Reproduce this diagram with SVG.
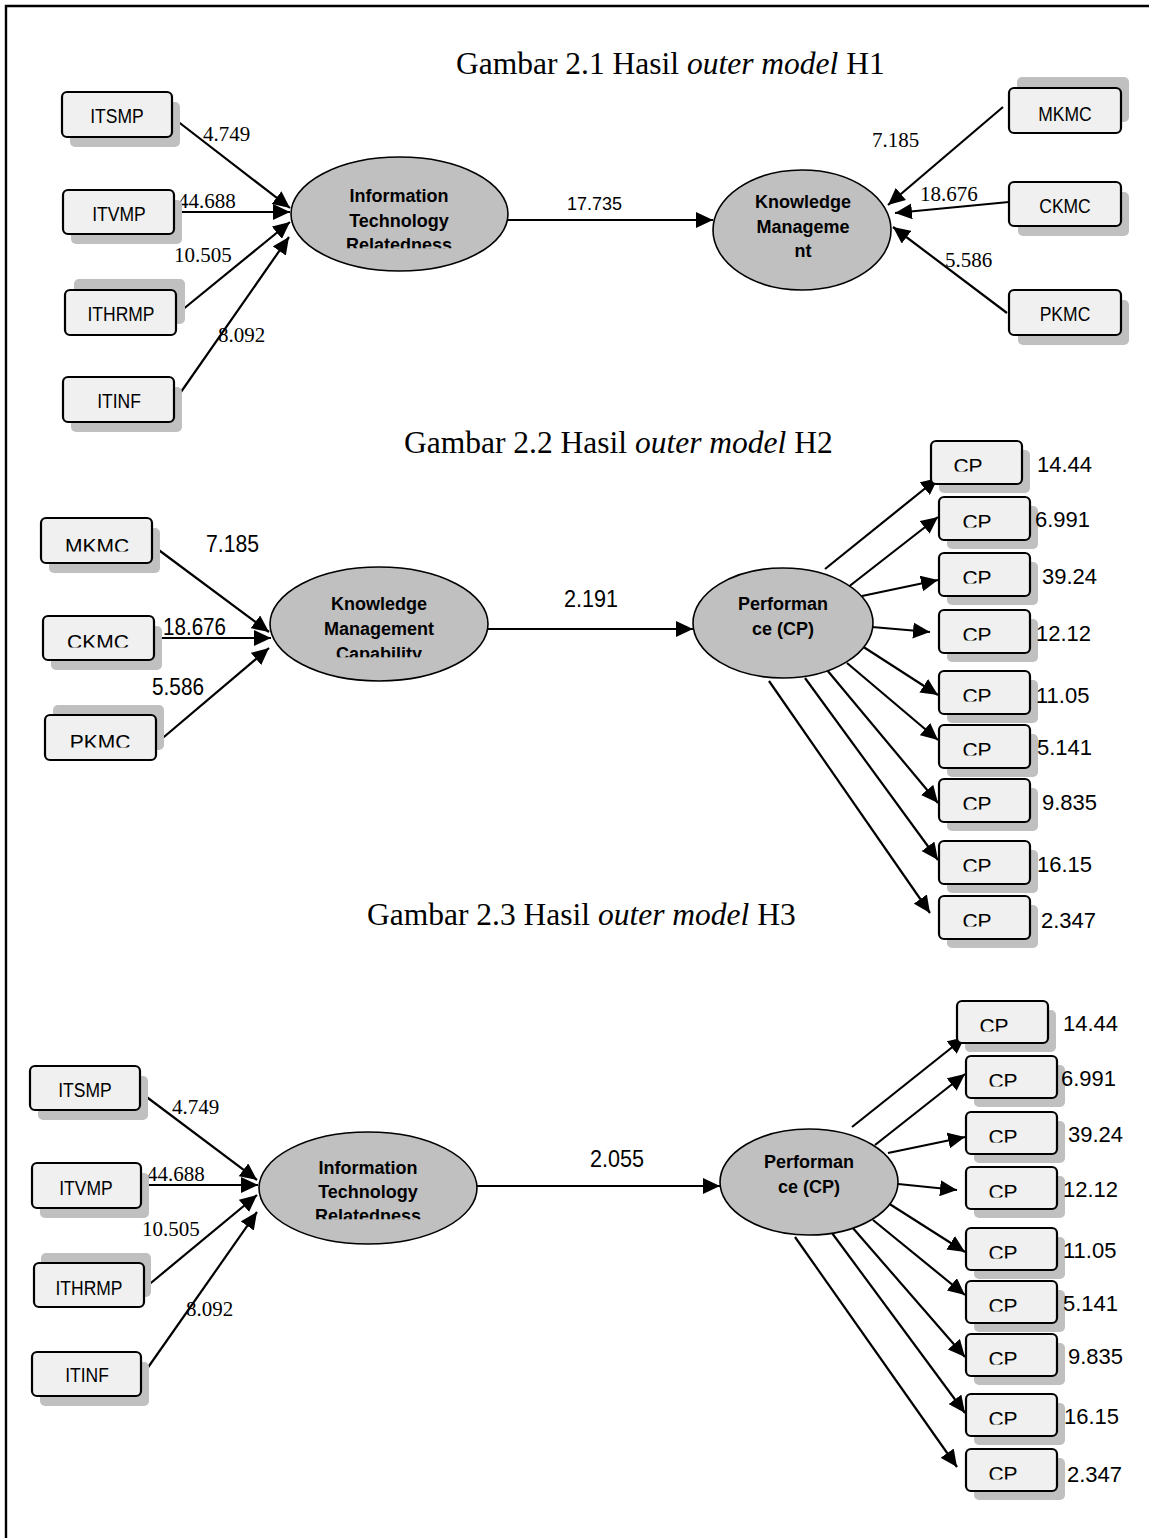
<svg xmlns="http://www.w3.org/2000/svg" width="1149" height="1538" viewBox="0 0 1149 1538">
<style>
.bx{fill:#f0f0f0;stroke:#000;stroke-width:2.2}
.sh{fill:#c0c0c0}
.el{fill:#c0c0c0;stroke:#000;stroke-width:1.6}
.ln{stroke:#000;stroke-width:2.2;fill:none;marker-end:url(#ah)}
.tt{font-family:"Liberation Serif","Times New Roman",serif;font-size:31.5px;fill:#000}
.tv{font-family:"Liberation Serif","Times New Roman",serif;font-size:21px;fill:#000}
.bt{font-family:"Liberation Sans",Arial,sans-serif;font-size:20px;text-anchor:middle;fill:#000}
.bt2{font-family:"Liberation Sans",Arial,sans-serif;font-size:21px;text-anchor:middle;fill:#000}
.et{font-family:"Liberation Sans",Arial,sans-serif;font-size:18px;font-weight:bold;text-anchor:middle;fill:#000}
.lv{font-family:"Liberation Sans",Arial,sans-serif;font-size:24px;fill:#000}
.cv{font-family:"Liberation Sans",Arial,sans-serif;font-size:22px;fill:#000}
.l1{font-family:"Liberation Sans",Arial,sans-serif;font-size:18px;fill:#000}
</style>
<defs>
<marker id="ah" markerUnits="userSpaceOnUse" markerWidth="18" markerHeight="16" refX="17" refY="8" orient="auto">
<path d="M0,0 L17,8 L0,16 z" fill="#000"/>
</marker>
<clipPath id="cb" clipPathUnits="objectBoundingBox"><rect x="-0.1" y="0" width="1.2" height="0.76"/></clipPath>
<clipPath id="ce" clipPathUnits="objectBoundingBox"><rect x="-0.1" y="0" width="1.2" height="0.66"/></clipPath>
</defs>
<rect x="0" y="0" width="1149" height="1538" fill="#fff"/>
<g id="frame"><path d="M6,1538 V6 H1149" fill="none" stroke="#000" stroke-width="2.4"/></g>

<g id="titles">
<text class="tt" x="456" y="74">Gambar 2.1 Hasil <tspan font-style="italic">outer model</tspan> H1</text>
<text class="tt" x="404" y="453">Gambar 2.2 Hasil <tspan font-style="italic">outer model</tspan> H2</text>
<text class="tt" x="367" y="925">Gambar 2.3 Hasil <tspan font-style="italic">outer model</tspan> H3</text>
</g>

<g id="connectors">
<line class="ln" x1="172" y1="117" x2="290" y2="208"/>
<line class="ln" x1="174" y1="212" x2="290" y2="212"/>
<line class="ln" x1="176" y1="315" x2="290" y2="222"/>
<line class="ln" x1="174" y1="402" x2="289" y2="237"/>
<line class="ln" x1="508" y1="220" x2="713" y2="220"/>
<line class="ln" x1="1003" y1="107" x2="888" y2="205"/>
<line class="ln" x1="1009" y1="202" x2="895" y2="213"/>
<line class="ln" x1="1007" y1="313" x2="893" y2="227"/>

<line class="ln" x1="152" y1="545" x2="269" y2="632"/>
<line class="ln" x1="154" y1="638" x2="271" y2="638"/>
<line class="ln" x1="158" y1="742" x2="269" y2="648"/>
<line class="ln" x1="488" y1="629" x2="693" y2="629"/>
<line class="ln" x1="825" y1="569" x2="938" y2="478"/>
<line class="ln" x1="847" y1="588" x2="938" y2="517"/>
<line class="ln" x1="862" y1="596" x2="938" y2="580"/>
<line class="ln" x1="872" y1="627" x2="930" y2="632"/>
<line class="ln" x1="862" y1="646" x2="938" y2="695"/>
<line class="ln" x1="847" y1="663" x2="938" y2="740"/>
<line class="ln" x1="827" y1="670" x2="938" y2="803"/>
<line class="ln" x1="805" y1="678" x2="938" y2="860"/>
<line class="ln" x1="769" y1="681" x2="930" y2="913"/>

<line class="ln" x1="140" y1="1092" x2="257" y2="1180"/>
<line class="ln" x1="141" y1="1185" x2="258" y2="1185"/>
<line class="ln" x1="146" y1="1287" x2="257" y2="1195"/>
<line class="ln" x1="142" y1="1376" x2="257" y2="1212"/>
<line class="ln" x1="477" y1="1186" x2="720" y2="1186"/>
<line class="ln" x1="852" y1="1127" x2="965" y2="1037"/>
<line class="ln" x1="875" y1="1145" x2="965" y2="1074"/>
<line class="ln" x1="888" y1="1153" x2="965" y2="1137"/>
<line class="ln" x1="898" y1="1184" x2="957" y2="1190"/>
<line class="ln" x1="888" y1="1203" x2="965" y2="1252"/>
<line class="ln" x1="873" y1="1220" x2="965" y2="1295"/>
<line class="ln" x1="852" y1="1227" x2="965" y2="1357"/>
<line class="ln" x1="832" y1="1233" x2="965" y2="1413"/>
<line class="ln" x1="795" y1="1237" x2="957" y2="1467"/>
</g>

<g id="edge-labels">
<text class="tv" x="203" y="141">4.749</text>
<text class="tv" x="178" y="208">44.688</text>
<text class="tv" x="174" y="262">10.505</text>
<text class="tv" x="218" y="342">8.092</text>
<text class="l1" x="567" y="210">17.735</text>
<text class="tv" x="872" y="147">7.185</text>
<text class="tv" x="920" y="201">18.676</text>
<text class="tv" x="945" y="267">5.586</text>

<text class="lv" x="206" y="552" textLength="53" lengthAdjust="spacingAndGlyphs">7.185</text>
<text class="lv" x="163" y="635" textLength="63" lengthAdjust="spacingAndGlyphs">18.676</text>
<text class="lv" x="152" y="695" textLength="52" lengthAdjust="spacingAndGlyphs">5.586</text>
<text class="lv" x="564" y="607" textLength="54" lengthAdjust="spacingAndGlyphs">2.191</text>

<text class="tv" x="172" y="1114">4.749</text>
<text class="tv" x="147" y="1181">44.688</text>
<text class="tv" x="142" y="1236">10.505</text>
<text class="tv" x="186" y="1316">8.092</text>
<text class="lv" x="590" y="1167" textLength="54" lengthAdjust="spacingAndGlyphs">2.055</text>
</g>

<!-- Section 1 -->
<g id="s1-itsmp"><rect class="sh" x="70" y="102" width="110" height="45" rx="5"/><rect class="bx" x="62" y="92" width="110" height="45" rx="5"/><text class="bt" x="117" y="123" textLength="53.5" lengthAdjust="spacingAndGlyphs">ITSMP</text></g>
<g id="s1-itvmp"><rect class="sh" x="71" y="200" width="111" height="44" rx="5"/><rect class="bx" x="63" y="190" width="111" height="44" rx="5"/><text class="bt" x="119" y="221" textLength="53.5" lengthAdjust="spacingAndGlyphs">ITVMP</text></g>
<g id="s1-ithrmp"><rect class="sh" x="74" y="279" width="111" height="45" rx="5"/><rect class="bx" x="65" y="290" width="111" height="45" rx="5"/><text class="bt" x="121" y="321" textLength="67" lengthAdjust="spacingAndGlyphs">ITHRMP</text></g>
<g id="s1-itinf"><rect class="sh" x="71" y="387" width="111" height="45" rx="5"/><rect class="bx" x="63" y="377" width="111" height="45" rx="5"/><text class="bt" x="119" y="408" textLength="43.7" lengthAdjust="spacingAndGlyphs">ITINF</text></g>
<g id="s1-itr"><ellipse class="el" cx="399.5" cy="214" rx="108.5" ry="57"/><text class="et" x="399" y="202">Information</text><text class="et" x="399" y="227">Technology</text><text class="et" x="399" y="251" clip-path="url(#ce)">Relatedness</text></g>
<g id="s1-km"><ellipse class="el" cx="802" cy="230" rx="89" ry="60"/><text class="et" x="803" y="208">Knowledge</text><text class="et" x="803" y="233">Manageme</text><text class="et" x="803" y="257">nt</text></g>
<g id="s1-mkmc"><rect class="sh" x="1017" y="77" width="112" height="45" rx="5"/><rect class="bx" x="1009" y="88" width="112" height="45" rx="5"/><text class="bt" x="1065" y="121" textLength="53.5" lengthAdjust="spacingAndGlyphs">MKMC</text></g>
<g id="s1-ckmc"><rect class="sh" x="1018" y="192" width="111" height="44" rx="5"/><rect class="bx" x="1009" y="182" width="112" height="44" rx="5"/><text class="bt" x="1065" y="213" textLength="51.5" lengthAdjust="spacingAndGlyphs">CKMC</text></g>
<g id="s1-pkmc"><rect class="sh" x="1018" y="300" width="111" height="45" rx="5"/><rect class="bx" x="1009" y="290" width="112" height="45" rx="5"/><text class="bt" x="1065" y="321" textLength="50.6" lengthAdjust="spacingAndGlyphs">PKMC</text></g>

<!-- Section 2 -->
<g id="s2-mkmc"><rect class="sh" x="49" y="528" width="111" height="45" rx="5"/><rect class="bx" x="41" y="518" width="111" height="45" rx="5"/><text class="bt2" x="97" y="553" clip-path="url(#cb)">MKMC</text></g>
<g id="s2-ckmc"><rect class="sh" x="51" y="626" width="111" height="44" rx="5"/><rect class="bx" x="43" y="616" width="111" height="44" rx="5"/><text class="bt2" x="98" y="649" clip-path="url(#cb)">CKMC</text></g>
<g id="s2-pkmc"><rect class="sh" x="53" y="705" width="111" height="45" rx="5"/><rect class="bx" x="45" y="715" width="111" height="45" rx="5"/><text class="bt2" x="100" y="749" clip-path="url(#cb)">PKMC</text></g>
<g id="s2-kmc"><ellipse class="el" cx="379" cy="624" rx="109" ry="57"/><text class="et" x="379" y="610">Knowledge</text><text class="et" x="379" y="635">Management</text><text class="et" x="379" y="660" clip-path="url(#ce)">Capability</text></g>
<g id="s2-perf"><ellipse class="el" cx="783" cy="623" rx="90" ry="55"/><text class="et" x="783" y="610">Performan</text><text class="et" x="783" y="635">ce (CP)</text></g>

<g id="s2-cp1"><rect class="sh" x="939" y="450" width="91" height="43" rx="5"/><rect class="bx" x="931" y="441" width="91" height="43" rx="5"/><text class="bt2" x="968" y="473" clip-path="url(#cb)">CP</text><text class="cv" x="1037" y="472">14.44</text></g>
<g id="s2-cp2"><rect class="sh" x="947" y="506" width="91" height="43" rx="5"/><rect class="bx" x="939" y="497" width="91" height="43" rx="5"/><text class="bt2" x="977" y="529" clip-path="url(#cb)">CP</text><text class="cv" x="1035" y="527">6.991</text></g>
<g id="s2-cp3"><rect class="sh" x="947" y="562" width="91" height="43" rx="5"/><rect class="bx" x="939" y="553" width="91" height="43" rx="5"/><text class="bt2" x="977" y="585" clip-path="url(#cb)">CP</text><text class="cv" x="1042" y="584">39.24</text></g>
<g id="s2-cp4"><rect class="sh" x="947" y="619" width="91" height="43" rx="5"/><rect class="bx" x="939" y="610" width="91" height="43" rx="5"/><text class="bt2" x="977" y="642" clip-path="url(#cb)">CP</text><text class="cv" x="1036" y="641">12.12</text></g>
<g id="s2-cp5"><rect class="sh" x="947" y="680" width="91" height="43" rx="5"/><rect class="bx" x="939" y="671" width="91" height="43" rx="5"/><text class="bt2" x="977" y="703" clip-path="url(#cb)">CP</text><text class="cv" x="1036" y="703">11.05</text></g>
<g id="s2-cp6"><rect class="sh" x="947" y="734" width="91" height="43" rx="5"/><rect class="bx" x="939" y="725" width="91" height="43" rx="5"/><text class="bt2" x="977" y="757" clip-path="url(#cb)">CP</text><text class="cv" x="1037" y="755">5.141</text></g>
<g id="s2-cp7"><rect class="sh" x="947" y="788" width="91" height="43" rx="5"/><rect class="bx" x="939" y="779" width="91" height="43" rx="5"/><text class="bt2" x="977" y="811" clip-path="url(#cb)">CP</text><text class="cv" x="1042" y="810">9.835</text></g>
<g id="s2-cp8"><rect class="sh" x="947" y="850" width="91" height="43" rx="5"/><rect class="bx" x="939" y="841" width="91" height="43" rx="5"/><text class="bt2" x="977" y="873" clip-path="url(#cb)">CP</text><text class="cv" x="1037" y="872">16.15</text></g>
<g id="s2-cp9"><rect class="sh" x="947" y="905" width="91" height="43" rx="5"/><rect class="bx" x="939" y="896" width="91" height="43" rx="5"/><text class="bt2" x="977" y="928" clip-path="url(#cb)">CP</text><text class="cv" x="1041" y="928">2.347</text></g>

<!-- Section 3 -->
<g id="s3-itsmp"><rect class="sh" x="38" y="1076" width="110" height="44" rx="5"/><rect class="bx" x="30" y="1066" width="110" height="44" rx="5"/><text class="bt" x="85" y="1097" textLength="53.5" lengthAdjust="spacingAndGlyphs">ITSMP</text></g>
<g id="s3-itvmp"><rect class="sh" x="40" y="1173" width="109" height="45" rx="5"/><rect class="bx" x="32" y="1163" width="109" height="45" rx="5"/><text class="bt" x="86" y="1195" textLength="53.5" lengthAdjust="spacingAndGlyphs">ITVMP</text></g>
<g id="s3-ithrmp"><rect class="sh" x="41" y="1253" width="110" height="44" rx="5"/><rect class="bx" x="34" y="1263" width="110" height="44" rx="5"/><text class="bt" x="89" y="1295" textLength="67" lengthAdjust="spacingAndGlyphs">ITHRMP</text></g>
<g id="s3-itinf"><rect class="sh" x="40" y="1362" width="109" height="44" rx="5"/><rect class="bx" x="32" y="1352" width="109" height="44" rx="5"/><text class="bt" x="87" y="1382" textLength="43.7" lengthAdjust="spacingAndGlyphs">ITINF</text></g>
<g id="s3-itr"><ellipse class="el" cx="368" cy="1188" rx="109" ry="56"/><text class="et" x="368" y="1174">Information</text><text class="et" x="368" y="1198">Technology</text><text class="et" x="368" y="1222" clip-path="url(#ce)">Relatedness</text></g>
<g id="s3-perf"><ellipse class="el" cx="809" cy="1182" rx="89" ry="53"/><text class="et" x="809" y="1168">Performan</text><text class="et" x="809" y="1193">ce (CP)</text></g>

<g id="s3-cp1"><rect class="sh" x="965" y="1010" width="91" height="42" rx="5"/><rect class="bx" x="957" y="1001" width="91" height="42" rx="5"/><text class="bt2" x="994" y="1033" clip-path="url(#cb)">CP</text><text class="cv" x="1063" y="1031">14.44</text></g>
<g id="s3-cp2"><rect class="sh" x="974" y="1065" width="91" height="42" rx="5"/><rect class="bx" x="966" y="1056" width="91" height="42" rx="5"/><text class="bt2" x="1003" y="1088" clip-path="url(#cb)">CP</text><text class="cv" x="1061" y="1086">6.991</text></g>
<g id="s3-cp3"><rect class="sh" x="974" y="1121" width="91" height="42" rx="5"/><rect class="bx" x="966" y="1112" width="91" height="42" rx="5"/><text class="bt2" x="1003" y="1144" clip-path="url(#cb)">CP</text><text class="cv" x="1068" y="1142">39.24</text></g>
<g id="s3-cp4"><rect class="sh" x="974" y="1176" width="91" height="42" rx="5"/><rect class="bx" x="966" y="1167" width="91" height="42" rx="5"/><text class="bt2" x="1003" y="1199" clip-path="url(#cb)">CP</text><text class="cv" x="1063" y="1197">12.12</text></g>
<g id="s3-cp5"><rect class="sh" x="974" y="1237" width="91" height="42" rx="5"/><rect class="bx" x="966" y="1228" width="91" height="42" rx="5"/><text class="bt2" x="1003" y="1260" clip-path="url(#cb)">CP</text><text class="cv" x="1063" y="1258">11.05</text></g>
<g id="s3-cp6"><rect class="sh" x="974" y="1290" width="91" height="42" rx="5"/><rect class="bx" x="966" y="1281" width="91" height="42" rx="5"/><text class="bt2" x="1003" y="1313" clip-path="url(#cb)">CP</text><text class="cv" x="1063" y="1311">5.141</text></g>
<g id="s3-cp7"><rect class="sh" x="974" y="1343" width="91" height="42" rx="5"/><rect class="bx" x="966" y="1334" width="91" height="42" rx="5"/><text class="bt2" x="1003" y="1366" clip-path="url(#cb)">CP</text><text class="cv" x="1068" y="1364">9.835</text></g>
<g id="s3-cp8"><rect class="sh" x="974" y="1403" width="91" height="42" rx="5"/><rect class="bx" x="966" y="1394" width="91" height="42" rx="5"/><text class="bt2" x="1003" y="1426" clip-path="url(#cb)">CP</text><text class="cv" x="1064" y="1424">16.15</text></g>
<g id="s3-cp9"><rect class="sh" x="974" y="1458" width="91" height="42" rx="5"/><rect class="bx" x="966" y="1449" width="91" height="42" rx="5"/><text class="bt2" x="1003" y="1481" clip-path="url(#cb)">CP</text><text class="cv" x="1067" y="1482">2.347</text></g>
</svg>
